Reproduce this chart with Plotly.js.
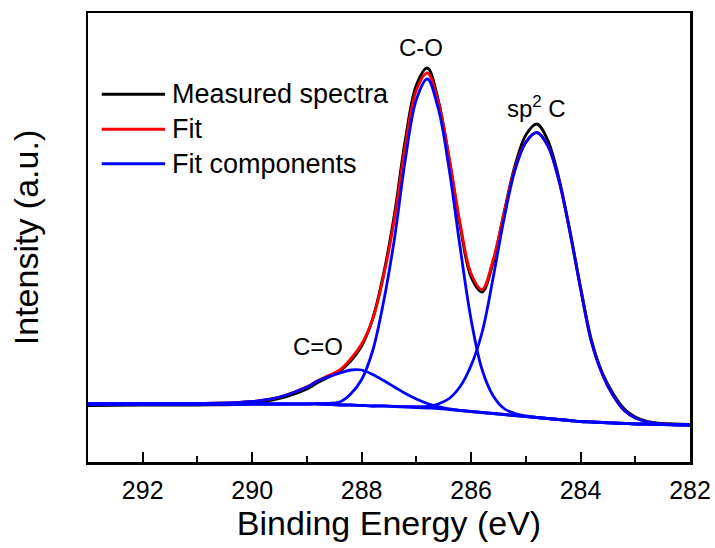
<!DOCTYPE html>
<html>
<head>
<meta charset="utf-8">
<script src="https://cdn.plot.ly/plotly-3.0.1.min.js"></script>
<style>
html,body{margin:0;padding:0;background:#fff;}
#chart{width:715px;height:548px;}
</style>
</head>
<body>
<div id="chart"></div>
<script>
// Binding energy grid (eV)
const energy = [293, 292, 291, 290, 289.5, 289, 288.8, 288.6, 288.4, 288.2, 288, 287.8, 287.6, 287.4, 287.2, 287, 286.8, 286.6, 286.4, 286.2, 286, 285.8, 285.6, 285.4, 285.2, 285, 284.8, 284.6, 284.4, 284.2, 284, 283.8, 283.6, 283.4, 283.2, 283, 282.8, 282.5, 282];
// Shirley-type background (a.u.)
const background = [58, 58, 58, 58, 58, 58, 58, 57.5, 57, 57, 56.5, 56, 56, 55.5, 55, 54.5, 54, 53.5, 52.5, 51.5, 50.5, 49.5, 48.5, 47.5, 46.5, 45.5, 44.5, 43.5, 42.5, 41.5, 40.5, 40, 39.5, 39, 38.5, 38, 38, 37.5, 37];
// Fit components above background (a.u.)
const compCdO = [0, 0, 0.3, 2.5, 7, 17, 23, 28, 32, 35, 35.5, 31.5, 25.5, 19.5, 13.5, 8.5, 4.5, 2, 0.6, 0, 0, 0, 0, 0, 0, 0, 0, 0, 0, 0, 0, 0, 0, 0, 0, 0, 0, 0, 0];
const compCO  = [0, 0, 0, 0, 0, 0.2, 0.5, 1.2, 3, 11, 26, 55, 104, 168, 248, 308, 329, 300, 240, 163, 92, 43, 18, 6, 2, 0.5, 0, 0, 0, 0, 0, 0, 0, 0, 0, 0, 0, 0, 0];
const compSp2 = [0, 0, 0, 0, 0, 0, 0, 0, 0, 0, 0, 0, 0.1, 0.2, 0.4, 0.8, 1.5, 4.5, 11, 24, 46, 80, 135, 195, 245, 274, 285, 273, 240, 190, 133, 80, 48, 27, 13, 6, 2.5, 0.5, 0];
// Measured spectrum (a.u.)
const measured = [56.5, 57, 57, 58.5, 63.5, 73, 79.5, 85, 91, 101, 116, 143, 188, 248, 323, 377, 394, 362, 303, 236, 185, 170, 199, 249, 296, 327, 338, 322, 285, 233, 175, 122, 89, 68, 53, 45, 41, 38.5, 37.5];

const xTickVals = [292, 290, 288, 286, 284, 282];
const legendNames = ["Measured spectra", "Fit", "Fit components"];
const legendColors = ["#000000", "#ff0000", "#0000ff"];
const peakLabels = [
  {text: "C-O", x: 286.92, y: 415},
  {text: "sp<sup>2</sup> C", x: 284.80, y: 355},
  {text: "C=O", x: 288.80, y: 116}
];

const withBg = comp => comp.map((v, i) => v + background[i]);
const fit = energy.map((e, i) => background[i] + compCdO[i] + compCO[i] + compSp2[i]);

const lineOpts = (color) => ({color: color, width: 2.8, shape: 'spline', smoothing: 1});

const traces = [
  {x: energy, y: measured, mode: 'lines', name: legendNames[0], line: lineOpts('#000000')},
  {x: energy, y: fit, mode: 'lines', name: legendNames[1], line: lineOpts('#ff0000')},
  {x: energy, y: background, mode: 'lines', name: 'Background', line: lineOpts('#0000ff')},
  {x: energy, y: withBg(compCdO), mode: 'lines', name: 'C=O', line: lineOpts('#0000ff')},
  {x: energy, y: withBg(compCO), mode: 'lines', name: 'C-O', line: lineOpts('#0000ff')},
  {x: energy, y: withBg(compSp2), mode: 'lines', name: 'sp2 C', line: lineOpts('#0000ff')}
];

const FONT = 'Liberation Sans, Arial, sans-serif';
const legendRowsY = [0.819, 0.741, 0.664];
const shapes = [];
const annotations = [];
legendNames.forEach((name, i) => {
  shapes.push({type: 'line', xref: 'paper', yref: 'paper', x0: 0.0228, x1: 0.128, y0: legendRowsY[i], y1: legendRowsY[i],
    line: {color: legendColors[i], width: 3}});
  annotations.push({xref: 'paper', yref: 'paper', x: 0.137, y: legendRowsY[i], xanchor: 'left', yanchor: 'middle',
    text: name, showarrow: false, font: {family: FONT, size: 27, color: '#000'}});
});
peakLabels.forEach(p => {
  annotations.push({xref: 'x', yref: 'y', x: p.x, y: p.y, xanchor: 'center', yanchor: 'middle',
    text: p.text, showarrow: false, font: {family: FONT, size: 24, color: '#000'}});
});

const layout = {
  width: 715, height: 548,
  margin: {l: 88, r: 25, t: 13, b: 86, pad: 0},
  paper_bgcolor: '#fff', plot_bgcolor: '#fff',
  showlegend: false,
  font: {family: FONT, color: '#000'},
  xaxis: {
    range: [293, 282], autorange: false,
    tickvals: xTickVals, ticktext: xTickVals.map(String),
    ticks: 'inside', ticklen: 10, tickwidth: 2, tickcolor: '#000',
    minor: {dtick: 1, tick0: 282, ticks: 'inside', ticklen: 6, tickwidth: 2, tickcolor: '#000', showgrid: false},
    showline: true, mirror: true, linecolor: '#000', linewidth: 2.5,
    showgrid: false, zeroline: false,
    tickfont: {family: FONT, size: 25, color: '#000'},
    ticklabelstandoff: 4,
    title: {text: 'Binding Energy (eV)', font: {family: FONT, size: 34, color: '#000'}, standoff: 9}
  },
  yaxis: {
    range: [0, 449], autorange: false,
    showticklabels: false, ticks: '',
    showline: true, mirror: true, linecolor: '#000', linewidth: 2.5,
    showgrid: false, zeroline: false,
    title: {text: 'Intensity (a.u.)', font: {family: FONT, size: 34, color: '#000'}, standoff: 37}
  },
  shapes: shapes,
  annotations: annotations
};

Plotly.newPlot('chart', traces, layout, {displayModeBar: false, staticPlot: true});
</script>
</body>
</html>
